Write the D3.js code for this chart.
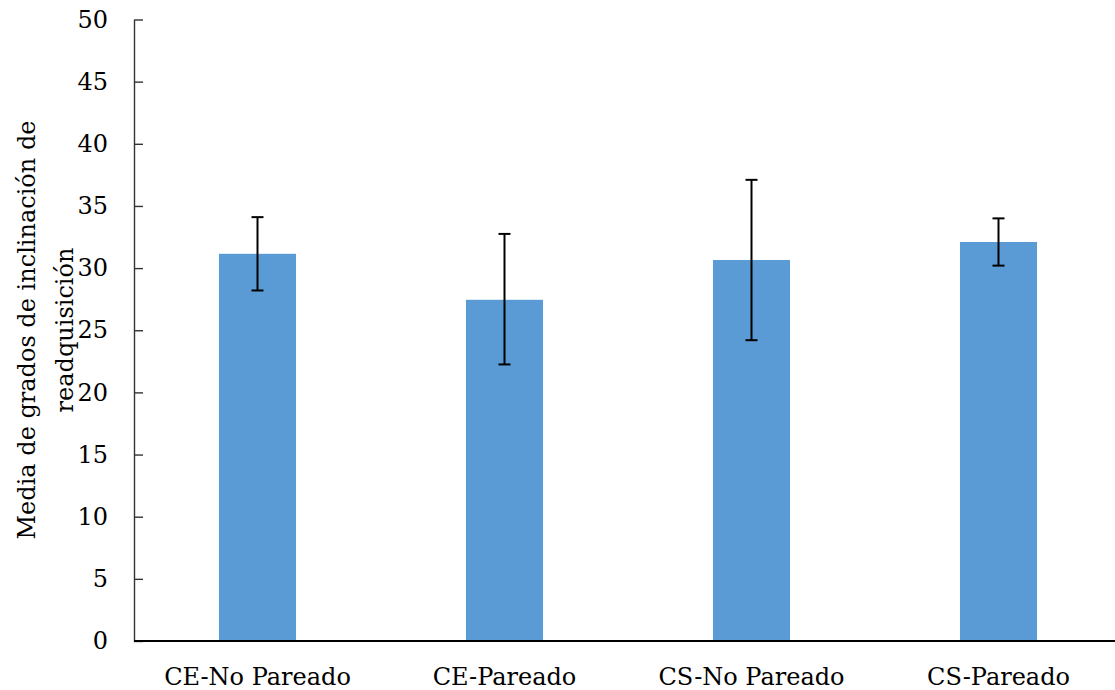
<!DOCTYPE html>
<html>
<head>
<meta charset="utf-8">
<script src="https://cdn.jsdelivr.net/npm/d3@7"></script>
<style>
  body { margin: 0; background: #fff; }
  text { font-family: "DejaVu Serif", serif; fill: #000; }
</style>
</head>
<body>
<svg id="chart" width="1115" height="690"></svg>
<script>
// Data
const categories = ['CE-No Pareado', 'CE-Pareado', 'CS-No Pareado', 'CS-Pareado'];
const means      = [31.15, 27.45, 30.65, 32.1];
const errLow     = [28.2, 22.25, 24.2, 30.2];
const errHigh    = [34.1, 32.75, 37.1, 34.0];
const yTicks     = [0, 5, 10, 15, 20, 25, 30, 35, 40, 45, 50];
const yTitle     = ['Media de grados de inclinación de', 'readquisición'];

const rows = categories.map((c, i) => ({ cat: c, mean: means[i], lo: errLow[i], hi: errHigh[i] }));

const svg = d3.select('#chart');
const plotLeft = 134, plotRight = 1122, plotTop = 19.5, plotBottom = 641;
const fontSize = 24;

const x = d3.scaleBand()
  .domain(categories)
  .range([plotLeft, plotRight])
  .paddingInner(0.688)
  .paddingOuter(0.344);

const y = d3.scaleLinear()
  .domain([0, 50])
  .range([plotBottom, plotTop]);

// Bars
svg.append('g')
  .selectAll('rect')
  .data(rows)
  .join('rect')
    .attr('x', d => x(d.cat))
    .attr('y', d => y(d.mean))
    .attr('width', x.bandwidth())
    .attr('height', d => y(0) - y(d.mean))
    .attr('fill', '#5B9BD5');

// Error bars
const eb = svg.append('g')
  .attr('stroke', '#000')
  .attr('stroke-width', 2);

rows.forEach(d => {
  const cx = x(d.cat) + x.bandwidth() / 2;
  eb.append('line')
    .attr('x1', cx).attr('x2', cx)
    .attr('y1', y(d.hi)).attr('y2', y(d.lo));
  eb.append('line')
    .attr('x1', cx - 6).attr('x2', cx + 6)
    .attr('y1', y(d.hi)).attr('y2', y(d.hi));
  eb.append('line')
    .attr('x1', cx - 6).attr('x2', cx + 6)
    .attr('y1', y(d.lo)).attr('y2', y(d.lo));
});

// Y axis
const yAxis = svg.append('g')
  .attr('transform', `translate(${plotLeft},0)`)
  .call(d3.axisLeft(y).tickValues(yTicks).tickSizeInner(-9).tickSizeOuter(0).tickPadding(26));
yAxis.select('.domain').attr('stroke', '#333').attr('stroke-width', 1.4);
yAxis.selectAll('.tick line').attr('stroke', '#333').attr('stroke-width', 1.4);
yAxis.selectAll('.tick text')
  .attr('font-family', '"DejaVu Serif", serif')
  .attr('font-size', fontSize)
  .attr('fill', '#000');

// X axis
const xAxis = svg.append('g')
  .attr('transform', `translate(0,${plotBottom})`)
  .call(d3.axisBottom(x).tickSize(0).tickPadding(27));
xAxis.select('.domain').remove();
xAxis.append('line')
  .attr('x1', plotLeft).attr('x2', 1115)
  .attr('stroke', '#000').attr('stroke-width', 2);
xAxis.selectAll('.tick text')
  .attr('font-family', '"DejaVu Serif", serif')
  .attr('font-size', fontSize)
  .attr('fill', '#000');

// Y title
svg.append('text')
  .attr('transform', 'translate(0,330) rotate(-90)')
  .attr('text-anchor', 'middle')
  .attr('font-size', fontSize)
  .selectAll('tspan')
  .data(yTitle)
  .join('tspan')
    .attr('x', 0)
    .attr('y', (d, i) => 35 + i * 38)
    .text(d => d);
</script>
</body>
</html>
